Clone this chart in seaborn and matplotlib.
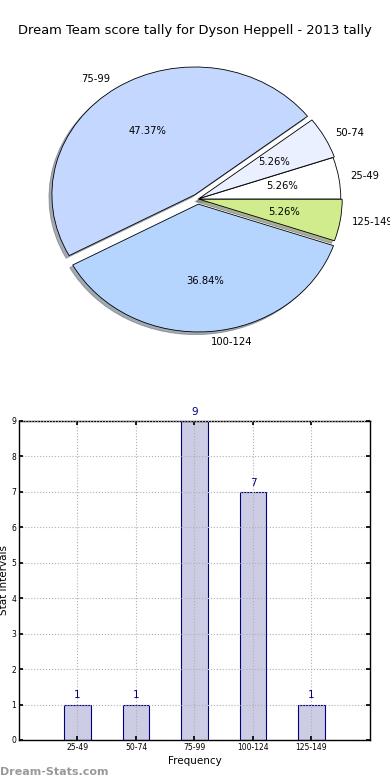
import numpy as np
import pandas as pd
import matplotlib
matplotlib.use("Agg")
import matplotlib.pyplot as plt
import seaborn as sns

# score buckets and how many games fell into each
buckets = ["25-49", "50-74", "75-99", "100-124", "125-149"]
counts = [1, 1, 9, 7, 1]
pie_colors = ["#FFFFFF", "#EAF0FF", "#C4D8FF", "#B5D5FF", "#D0EC8C"]
explode = [0.0, 0.01, 0.04, 0.04, 0.01]

sns.set_theme(style="white", rc={
    "xtick.direction": "in", "ytick.direction": "in",
    "xtick.top": True, "ytick.right": True,
    "xtick.bottom": True, "ytick.left": True,
    "axes.edgecolor": "black", "axes.linewidth": 1.0,
    "text.color": "black", "axes.labelcolor": "black",
    "xtick.color": "black", "ytick.color": "black",
})
plt.rcParams["font.family"] = ["DejaVu Sans"]

fig = plt.figure(figsize=(3.9, 7.8), dpi=100)
fig.text(0.5, 0.961, "Dream Team score tally for Dyson Heppell - 2013 tally",
         ha="center", va="center", fontsize=9.4)

# pie on top (old-style, not forced round)
ax1 = fig.add_axes([0.0495, 0.540, 0.9159, 0.4096])
wedges, texts, autotexts = ax1.pie(
    counts, labels=buckets, colors=pie_colors, explode=explode,
    autopct="%.2f%%", startangle=0, labeldistance=1.08,
    shadow={"ox": -0.015, "oy": -0.015, "shade": 0.6},
    wedgeprops={"edgecolor": "black", "linewidth": 0.6},
    textprops={"fontsize": 7.2},
)
ax1.set_aspect("auto")
ax1.set_xlim(-1.25, 1.25)
ax1.set_ylim(-1.25, 1.25)

# bar chart below
ax2 = fig.add_axes([0.0487, 0.0513, 0.9, 0.409])
df = pd.DataFrame({"bucket": buckets, "count": counts})
sns.barplot(data=df, x="bucket", y="count", ax=ax2, color="#CCCCE5",
            saturation=1, width=0.45, edgecolor="#000080", linewidth=0.8)
for i, c in enumerate(counts):
    ax2.text(i, c + 0.12, str(c), ha="center", va="bottom", color="#000080", fontsize=7.5)
ax2.set_xlim(-1, 5)
ax2.set_ylim(0, 9)
ax2.set_yticks(range(10))
ax2.grid(True, color="#b0b0b0", linestyle=":", linewidth=0.8)
ax2.set_axisbelow(False)
ax2.tick_params(labelsize=5.5, length=3, pad=2)
ax2.set_xlabel("Frequency", fontsize=7.5, labelpad=3)
ax2.set_ylabel("Stat Intervals", fontsize=7.5, labelpad=2)

fig.text(0.0, 0.004, "Dream-Stats.com", color="#999999", fontsize=8,
         fontweight="bold", ha="left", va="bottom")

fig.savefig("out.png", dpi=100)
